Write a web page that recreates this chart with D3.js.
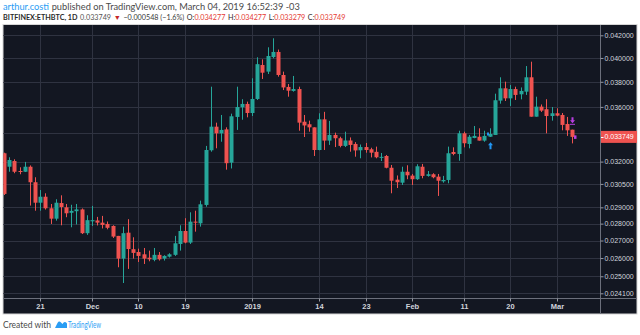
<!DOCTYPE html>
<html><head><meta charset="utf-8">
<script src="https://cdn.jsdelivr.net/npm/d3@7/dist/d3.min.js"></script>
<style>html,body{margin:0;padding:0;background:#fff;overflow:hidden}</style>
</head><body>
<svg id="c" width="640" height="335"></svg>
<script>
// ---------- DATA ----------
const startDate = "2018-11-14";
const endDate = "2019-03-04";
const open = [
.03258,.03165,.03204,.03136,.03131,.03165,.03061,.02929,.02967,.02894,.02830,.02927,.02900,.02866,.02876,.02887,.02743,
.02814,.02819,.02806,.02798,.02786,.02727,.02597,.02746,.02650,.02634,.02621,.02602,.02590,.02618,.02597,.02608,.02618,.02680,.02756,.02688,.02812,.02802,.02915,.03279,.03450,.03401,.03430,.03193,.03523,.03597,.03623,
.03553,.03662,.03940,.03884,.04008,.04052,.03856,.03758,.03726,.03741,.03487,.03468,.03445,.03281,.03505,.03348,.03389,.03365,.03310,.03349,.03324,.03279,.03302,.03286,.03268,.03229,.03239,.03158,.03078,.03058,.03131,
.03105,.03081,.03165,.03103,.03114,.03098,.03067,.03076,.03267,.03253,.03401,.03324,.03367,.03376,.03348,.03376,.03389,.03649,.03747,.03667,.03741,.03699,.03720,.03837,.03525,.03602,.03582,.03530,
.03551,.03538,.03470,.034277];
const high = [
.03262,.03230,.03216,.03161,.03198,.03174,.03094,.03010,.02989,.02921,.02951,.02976,.02921,.02916,.02921,.02893,.02851,
.02909,.02841,.02847,.02813,.02790,.02727,.02782,.02827,.02719,.02653,.02657,.02642,.02657,.02634,.02616,.02627,.02727,.02790,.02833,.02869,.02879,.02942,.03310,.03760,.03480,.03538,.03445,.03548,.03760,.03660,.03641,
.03829,.04006,.03988,.04093,.04173,.04073,.03884,.03782,.03848,.03760,.03538,.03495,.03445,.03551,.03562,.03493,.03406,.03376,.03413,.03371,.03337,.03320,.03331,.03297,.03305,.03260,.03246,.03177,.03106,.03165,.03175,
.03116,.03182,.03184,.03136,.03121,.03116,.03103,.03305,.03300,.03420,.03413,.03389,.03455,.03438,.03420,.03438,.03704,.03837,.03801,.03774,.03760,.03754,.03931,.03968,.03680,.03619,.03660,.03599,
.03589,.03553,.03523,.034277];
const low = [
.02978,.03131,.03121,.03114,.03129,.02911,.02879,.02879,.02886,.02798,.02818,.02790,.02839,.02778,.02795,.02738,.02733,
.02786,.02789,.02771,.02766,.02715,.02549,.02464,.02540,.02597,.02578,.02567,.02582,.02582,.02586,.02586,.02603,.02612,.02642,.02684,.02680,.02752,.02782,.02904,.03269,.03293,.03340,.03145,.03153,.03426,.03502,.03520,
.03530,.03654,.03823,.03864,.03997,.03842,.03733,.03680,.03720,.03420,.03374,.03413,.03239,.03279,.03281,.03317,.03302,.03300,.03302,.03269,.03234,.03223,.03262,.03229,.03223,.03204,.03154,.02989,.03023,.03043,.03081,
.03043,.03076,.03087,.03098,.03087,.02972,.03058,.03054,.03244,.03206,.03300,.03293,.03365,.03348,.03340,.03374,.03389,.03625,.03646,.03607,.03654,.03659,.03694,.03525,.03525,.03561,.03401,.03495,
.03528,.03423,.03382,.033279];
const close = [
.02985,.03211,.03131,.03131,.03165,.03061,.02929,.02967,.02894,.02830,.02929,.02902,.02863,.02878,.02887,.02743,.02821,
.02821,.02806,.02792,.02775,.02723,.02597,.02743,.02651,.02629,.02612,.02597,.02593,.02618,.02593,.02612,.02621,.02684,.02756,.02688,.02812,.02808,.02919,.03281,.03450,.03401,.03426,.03189,.03528,.03599,.03623,.03553,
.03662,.03947,.03875,.04017,.04052,.03856,.03754,.03728,.03741,.03480,.03459,.03445,.03281,.03505,.03348,.03389,.03365,.03310,.03349,.03317,.03278,.03302,.03281,.03262,.03230,.03233,.03158,.03071,.03061,.03131,.03107,
.03081,.03168,.03103,.03114,.03094,.03071,.03076,.03258,.03253,.03401,.03329,.03376,.03382,.03348,.03382,.03396,.03652,.03747,.03667,.03741,.03694,.03726,.03837,.03525,.03602,.03571,.03530,.03551,
.03533,.03463,.03423,.033749];
const timeTickDates = ["2018-11-21","2018-12-01","2018-12-10","2018-12-19","2019-01-01","2019-01-14","2019-01-23","2019-02-01","2019-02-11","2019-02-20","2019-03-01"];
const timeTickLabels = ["21","Dec","10","19","2019","14","23","Feb","11","20","Mar"];
const priceTicks = [0.042,0.040,0.038,0.036,0.034,0.032,0.0305,0.029,0.028,0.027,0.026,0.025,0.0241];
const hiddenPriceLabels = [0.034]; // covered by the last-price label in the reference
const lastPrice = 0.033749;
const buyMarkers = [{date:"2019-02-16", price:0.03312}];
const sellMarkers = [{date:"2019-03-04", price:0.03490}];
const header1 = [
  {t:"arthur.costi", c:"#2a9df4", gap:1},
  {t:"published on TradingView.com, March 04, 2019 16:52:39 -03", c:"#4a4a4a", gap:0}
];
const header2 = [
  {t:"BITFINEX:ETHBTC, 1D", c:"#2b2b2b", w:"bold", gap:1},
  {t:"0.033749", c:"#555", gap:1},
  {t:"\u25BC", c:"#c62828", gap:1},
  {t:"\u22120.000548 (\u22121.6%)", c:"#3a3a3a", gap:1},
  {t:"O:", c:"#2b2b2b", gap:0}, {t:"0.034277", c:"#e53935", gap:1},
  {t:"H:", c:"#2b2b2b", gap:0}, {t:"0.034277", c:"#e53935", gap:1},
  {t:"L:", c:"#2b2b2b", gap:0}, {t:"0.033279", c:"#e53935", gap:1},
  {t:"C:", c:"#2b2b2b", gap:0}, {t:"0.033749", c:"#e53935", gap:0}
];

// ---------- LAYOUT ----------
const P = {left:3.3, right:600, top:25, bottom:298, panelRight:637, panelBottom:314};
const svg = d3.select("#c");
const parse = s => new Date(s + "T00:00:00Z");
const dates = d3.utcDay.range(parse(startDate), d3.utcDay.offset(parse(endDate), 1));
const x = d3.scaleUtc().domain([parse("2018-11-21"), parse("2019-03-01")]).range([40.3, 556.7]);
const y = d3.scaleLog().domain([0.0241, 0.042]).range([293.3, 35.3]);

const UP = "#26a69a", DOWN = "#ef5350", BG = "#131722", GRID = "#2f3341", AXIS = "#6b6f7b", TXT = "#d1d4dc";
const FONT = "Lato, 'Open Sans', sans-serif";

// panel
svg.append("rect").attr("x", 3).attr("y", 24.5).attr("width", P.panelRight - 3).attr("height", P.panelBottom - 24.5)
  .attr("fill", BG).attr("stroke", "#d6d6d6").attr("stroke-width", 1);

// grid
const g = svg.append("g");
g.selectAll("line.h").data(priceTicks).join("line")
  .attr("x1", P.left).attr("x2", P.right)
  .attr("y1", d => Math.round(y(d)) + 0.5).attr("y2", d => Math.round(y(d)) + 0.5)
  .attr("stroke", GRID);
g.selectAll("line.v").data(timeTickDates).join("line")
  .attr("y1", P.top).attr("y2", P.bottom)
  .attr("x1", d => Math.round(x(parse(d))) + 0.5).attr("x2", d => Math.round(x(parse(d))) + 0.5)
  .attr("stroke", GRID);

// clip
svg.append("clipPath").attr("id", "clip").append("rect")
  .attr("x", P.left).attr("y", P.top).attr("width", P.right - P.left).attr("height", P.bottom - P.top);

const bars = dates.map((d, i) => ({d, o: open[i], h: high[i], l: low[i], c: close[i]}));
const cg = svg.append("g").attr("clip-path", "url(#clip)");
const cand = cg.selectAll("g").data(bars).join("g");
cand.append("line")
  .attr("x1", b => Math.round(x(b.d)) + 0.5).attr("x2", b => Math.round(x(b.d)) + 0.5)
  .attr("y1", b => y(b.h)).attr("y2", b => y(b.l))
  .attr("stroke", b => b.c >= b.o ? UP : DOWN).attr("stroke-width", 1);
cand.append("rect")
  .attr("x", b => Math.round(x(b.d)) - 1.5).attr("width", 4)
  .attr("y", b => y(Math.max(b.o, b.c)))
  .attr("height", b => Math.max(1, y(Math.min(b.o, b.c)) - y(Math.max(b.o, b.c))))
  .attr("fill", b => b.c >= b.o ? UP : DOWN);

// markers
const mg = svg.append("g");
buyMarkers.forEach(m => {
  const cx = Math.round(x(parse(m.date))) + 0.5, cy = y(m.price);
  mg.append("path").attr("d", `M${cx},${cy-3.5} L${cx+2.5},${cy-0.5} L${cx+1},${cy-0.5} L${cx+1},${cy+3.5} L${cx-1},${cy+3.5} L${cx-1},${cy-0.5} L${cx-2.5},${cy-0.5} Z`)
    .attr("fill", "#2196f3");
  mg.append("rect").attr("x", cx - 3.5).attr("y", y(0.03396) - 1.5).attr("width", 2).attr("height", 3).attr("fill", "#2196f3");
});
sellMarkers.forEach(m => {
  const cx = Math.round(x(parse(m.date))) + 0.5, cy = y(m.price);
  mg.append("path").attr("d", `M${cx-1},${cy-4} L${cx+1},${cy-4} L${cx+1},${cy-1} L${cx+2.5},${cy-1} L${cx},${cy+2} L${cx-2.5},${cy-1} L${cx-1},${cy-1} Z`)
    .attr("fill", "#b73ee0");
  mg.append("rect").attr("x", cx - 2.5).attr("y", cy + 2.5).attr("width", 5).attr("height", 1).attr("fill", "#b73ee0");
  mg.append("rect").attr("x", cx + 1.5).attr("y", y(lastPrice) - 1.5).attr("width", 2.5).attr("height", 3.5).attr("fill", "#b73ee0");
});

// separators
svg.append("line").attr("x1", P.right + 0.5).attr("x2", P.right + 0.5).attr("y1", 25).attr("y2", P.panelBottom).attr("stroke", AXIS);
svg.append("line").attr("x1", 3).attr("x2", P.panelRight).attr("y1", P.bottom + 0.5).attr("y2", P.bottom + 0.5).attr("stroke", AXIS);

// price axis
const ya = svg.append("g").attr("transform", `translate(${P.right + 0.5},0)`)
  .call(d3.axisRight(y).tickValues(priceTicks)
    .tickFormat(d => hiddenPriceLabels.includes(d) ? "" : d.toFixed(6)).tickSize(3).tickPadding(1));
ya.select(".domain").remove();
ya.selectAll("line").attr("stroke", "#9598a1");
ya.selectAll("text").attr("fill", TXT).attr("font-family", "Liberation Sans, Arial, sans-serif").attr("font-size", 7);

// time axis
const xa = svg.append("g").attr("transform", `translate(0,${P.bottom + 0.5})`)
  .call(d3.axisBottom(x).tickValues(timeTickDates.map(parse)).tickFormat((d, i) => timeTickLabels[i]).tickSize(3).tickPadding(2));
xa.select(".domain").remove();
xa.selectAll("line").attr("stroke", "#9598a1");
xa.selectAll(".tick").attr("transform", d => `translate(${Math.round(x(d)) + 0.5},0)`);
xa.selectAll("text").attr("fill", TXT).attr("font-family", "Liberation Sans, Arial, sans-serif").attr("font-size", 7.5).attr("font-weight", "bold");

// last price label
const ly = y(lastPrice);
svg.append("rect").attr("x", P.right + 1).attr("y", ly - 6).attr("width", P.panelRight - P.right - 1).attr("height", 12).attr("fill", "#ef5350");
svg.append("line").attr("x1", P.right + 1).attr("x2", P.right + 3.5).attr("y1", Math.round(ly) + 0.5).attr("y2", Math.round(ly) + 0.5).attr("stroke", "#fff");
svg.append("text").attr("x", P.right + 4.5).attr("y", ly).attr("dy", "0.34em").text(lastPrice.toFixed(6))
  .attr("fill", "#fff").attr("font-family", "Liberation Sans, Arial, sans-serif").attr("font-size", 7);

// header: pieces laid out one after another, font size fitted to the target width
function layoutLine(pieces, x0, yb, targetW) {
  const lg = svg.append("g");
  const els = pieces.map(p => lg.append("text").attr("y", yb).attr("font-family", FONT).attr("font-size", 10)
    .attr("font-weight", p.w || "normal").attr("fill", p.c).text(p.t));
  const spaceW = 2.6;
  const measure = () => d3.sum(els, e => e.node().getComputedTextLength()) + d3.sum(pieces, p => p.gap * spaceW);
  const fs = 10 * targetW / measure();
  els.forEach(e => e.attr("font-size", fs));
  let cx = x0;
  els.forEach((e, i) => { e.attr("x", cx); cx += e.node().getComputedTextLength() + pieces[i].gap * spaceW; });
}
layoutLine(header1, 3, 9.5, 297);
layoutLine(header2, 3, 20, 338);

// footer
svg.append("text").attr("x", 3).attr("y", 328).attr("font-family", FONT).attr("font-size", 9)
  .attr("fill", "#4a4a4a").attr("textLength", 48).attr("lengthAdjust", "spacingAndGlyphs").text("Created with");
svg.append("path").attr("d", "M55,328 L57.5,323 Q59,320.5 61,322.5 L62.5,324 Q64.5,320.5 67,323.5 L67,328 Z").attr("fill", "#2a9df4");
svg.append("text").attr("x", 68).attr("y", 328).attr("font-family", FONT).attr("font-size", 9)
  .attr("fill", "#2a9df4").attr("textLength", 33).attr("lengthAdjust", "spacingAndGlyphs").text("TradingView");
</script>
</body></html>
